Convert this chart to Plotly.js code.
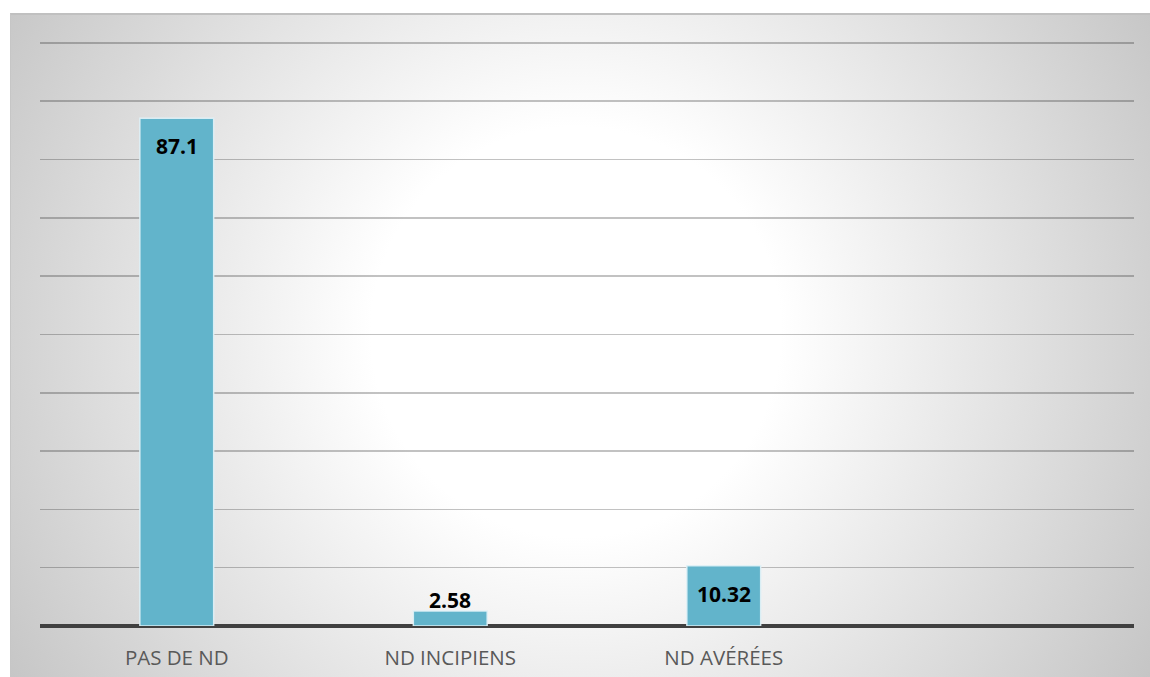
<!DOCTYPE html>
<html>
<head>
<meta charset="utf-8">
<script src="https://cdn.plot.ly/plotly-3.0.1.min.js"></script>
<style>
  html, body { margin: 0; padding: 0; background: #ffffff; }
  #frame {
    position: absolute; left: 10px; top: 13px; width: 1140px; height: 664px;
    box-sizing: border-box;
    border-top: 2px solid #c0c0c0; border-left: 1px solid #c6c6c6;
    background: radial-gradient(circle 680px at 565px 317px, #ffffff 205px, #c4c4c4 680px);
  }
  #chart { position: absolute; left: 0; top: 0; width: 1150px; height: 677px; }
</style>
</head>
<body>
<div id="frame"></div>
<div id="chart"></div>
<script>
// Distribution by category (percent)
const categories = ['PAS DE ND', 'ND INCIPIENS', 'ND AVÉRÉES'];
const values = [87.1, 2.58, 10.32];
const labels = ['87.1', '2.58', '10.32'];
// where each value label sits relative to its bar top
const labelInside = [true, false, true];

const barColor = '#62b4cb';

const trace = {
  type: 'bar',
  x: [0, 1, 2],
  y: values,
  width: 0.27,
  marker: { color: barColor, line: { color: 'rgba(225,242,247,0.9)', width: 1.5 } },
  hoverinfo: 'skip'
};

const annotations = values.map((v, i) => ({
  x: i, y: v, xref: 'x', yref: 'y',
  text: '<b>' + labels[i] + '</b>',
  showarrow: false,
  yanchor: 'middle',
  yshift: labelInside[i] ? -28 : 11,
  font: { family: 'Open Sans, sans-serif', size: 21, color: '#000000' }
}));

const layout = {
  width: 1150, height: 677,
  margin: { l: 40, r: 16, t: 40, b: 51 },
  paper_bgcolor: 'rgba(0,0,0,0)',
  plot_bgcolor: 'rgba(0,0,0,0)',
  showlegend: false,
  xaxis: {
    range: [-0.5, 3.5],
    tickmode: 'array',
    tickvals: [0, 1, 2],
    ticktext: categories,
    showgrid: false, zeroline: false, showline: false, ticks: '',
    tickfont: { family: 'Open Sans, sans-serif', size: 20.5, color: '#595959' },
    ticklabelstandoff: 17
  },
  yaxis: {
    range: [0, 100.5],
    tick0: 0,
    dtick: 10,
    showticklabels: false, ticks: '',
    showgrid: true, gridcolor: 'rgba(0,0,0,0.24)', gridwidth: 1.5,
    zeroline: true, zerolinecolor: '#404040', zerolinewidth: 3.5,
    showline: false
  },
  annotations: annotations
};

Plotly.newPlot('chart', [trace], layout, { displayModeBar: false, staticPlot: true });
</script>
</body>
</html>
